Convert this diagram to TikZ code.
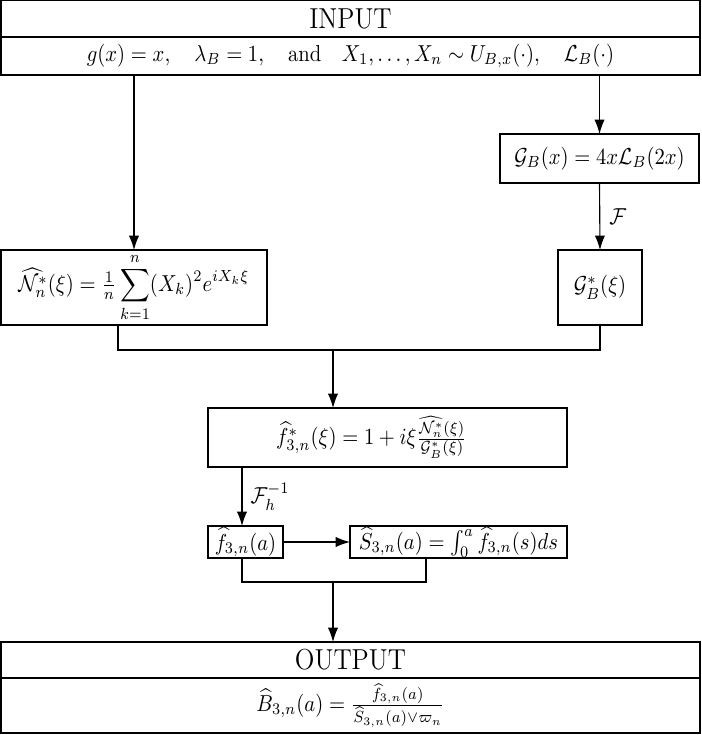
\documentclass[tikz,border=0pt]{standalone}
\usepackage{amsmath,amssymb}
\usepackage{graphicx}
\usetikzlibrary{arrows.meta}
\newlength{\pxu}\setlength{\pxu}{0.485pt}
% text is set slightly taller than wide throughout the chart
\newcommand{\tallmath}[1]{\scalebox{1}[1.12]{$#1$}}
\newcommand{\talltext}[1]{\scalebox{1}[1.12]{\fontsize{12.5}{15}\selectfont #1}}
\begin{document}
\begin{tikzpicture}[x=\pxu,y=-\pxu,
  box/.style={draw, line width=0.55pt, inner sep=0pt, outer sep=0pt, align=center},
  link/.style={line width=0.55pt},
  arr/.style={link, -{Latex[length=7pt,width=5pt]}},
  lab/.style={anchor=west, inner sep=0pt}]
\useasboundingbox (0,0) rectangle (701,735);

% input block
\node[box, minimum width=699*\pxu, minimum height=37*\pxu] (intitle) at (350.5,18.5) {\talltext{INPUT}};
\node[box, minimum width=699*\pxu, minimum height=38*\pxu] (inbody) at (350.5,56)
  {\tallmath{g(x)=x,\quad \lambda_B=1,\quad\text{and}\quad X_1,\dots,X_n\sim U_{B,x}(\cdot),\quad \mathcal{L}_B(\cdot)}};

% right branch
\node[box, minimum width=199*\pxu, minimum height=49*\pxu] (gb) at (599.5,158.5)
  {\tallmath{\mathcal{G}_B(x)=4x\mathcal{L}_B(2x)}};
\node[box, minimum width=84*\pxu, minimum height=75*\pxu] (gstar) at (600,287.5)
  {\tallmath{\mathcal{G}^*_B(\xi)}};

% left branch
\node[box, minimum width=266*\pxu, minimum height=75*\pxu] (nn) at (134,287.5)
  {\tallmath{\widehat{\mathcal{N}^*_n}(\xi)=\frac{1}{n}\displaystyle\sum_{k=1}^{n}(X_k)^2e^{iX_k\xi}}};

% estimators
\node[box, minimum width=359*\pxu, minimum height=59*\pxu] (fstar) at (387.5,437.5)
  {\tallmath{\widehat{f}^*_{3,n}(\xi)=1+i\xi\frac{\widehat{\mathcal{N}^*_n}(\xi)}{\mathcal{G}^*_B(\xi)}}\hspace*{15.5pt}};
\node[box, minimum width=75*\pxu, minimum height=32*\pxu] (f) at (245.5,542)
  {\tallmath{\widehat{f}_{3,n}(a)}};
\node[box, minimum width=217*\pxu, minimum height=32*\pxu] (s) at (458.5,542)
  {\tallmath{\widehat{S}_{3,n}(a)=\int_0^a\widehat{f}_{3,n}(s)ds}};

% output block
\node[box, minimum width=699*\pxu, minimum height=36*\pxu] (outtitle) at (350.5,660) {\talltext{OUTPUT}};
\node[box, minimum width=699*\pxu, minimum height=55*\pxu] (outbody) at (350.5,705.5)
  {\tallmath{\widehat{B}_{3,n}(a)=\frac{\widehat{f}_{3,n}(a)}{\widehat{S}_{3,n}(a)\vee\varpi_n}}};

% routing points
\coordinate (j1) at (333,350);
\coordinate (j2) at (333,582);
\coordinate (c1) at (118,0);
\coordinate (c2) at (242,0);
\coordinate (c3) at (426,0);

% connectors
\draw[arr] (nn.north |- inbody.south) -- (nn.north);
\draw[arr] (gb.north |- inbody.south) -- (gb.north);
\draw[arr] (gb.south) -- node[lab, xshift=9*\pxu] {\tallmath{\mathcal{F}}} (gstar.north);
\draw[link] (nn.south -| c1) |- (j1) -| (gstar.south);
\draw[arr] (j1) -- (j1 |- fstar.north);
\draw[arr] (fstar.south -| c2) -- node[lab, xshift=8*\pxu] {\tallmath{\mathcal{F}_h^{-1}}} (f.north -| c2);
\draw[arr] (f.east) -- (s.west);
\draw[link] (f.south -| c2) |- (j2) -| (s.south -| c3);
\draw[arr] (j2) -- (j2 |- outtitle.north);
\end{tikzpicture}
\end{document}
